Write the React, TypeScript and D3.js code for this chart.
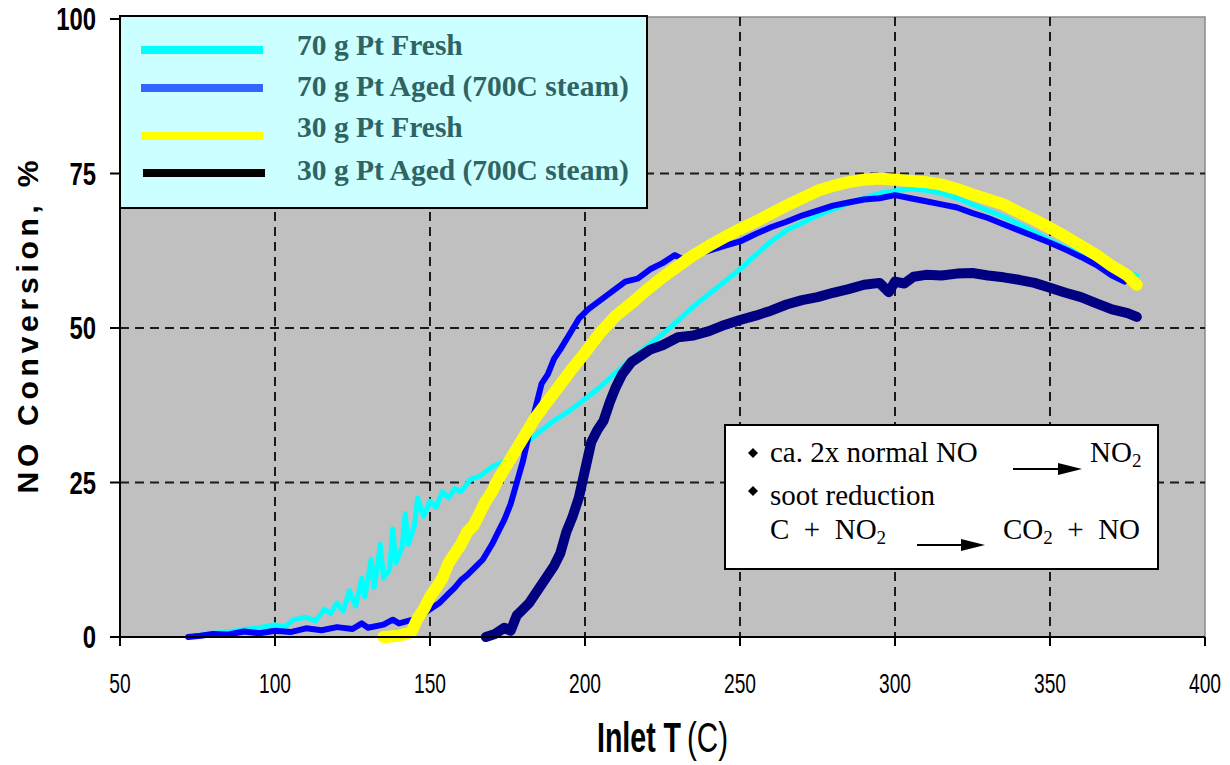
import React from "react";
import { scaleLinear, line } from "d3";

const W = 1230;
const H = 765;
const PLOT = { left: 120, right: 1205, top: 19, bottom: 637 };

const xTicks = [50, 100, 150, 200, 250, 300, 350, 400];
const yTicks = [0, 25, 50, 75, 100];

// [inlet T (C), NO conversion %]
const fresh70: [number, number][] = [
  [72, 0], [76, 0.3], [80, 0.6], [85, 0.8], [90, 1.2], [95, 1.5], [100, 2.0], [103, 1.6],
  [106, 2.8], [110, 3.2], [113, 2.6], [116, 4.5], [118, 3.8], [120, 5.5], [122, 4.2],
  [124, 7.5], [126, 5.0], [128, 9.5], [129, 6.5], [131, 12.5], [132, 8.0], [134, 15.0],
  [135, 9.5], [137, 11.0], [138, 17.5], [139, 12.0], [141, 14.5], [142, 20.0], [143, 15.0],
  [145, 18.0], [146, 22.5], [148, 19.5], [150, 22.0], [152, 21.0], [154, 23.5], [156, 22.5],
  [158, 24.0], [160, 23.5], [163, 25.5], [166, 26.0], [170, 27.5], [174, 28.5], [178, 30.5],
  [182, 31.8], [186, 33.5], [190, 35.0], [195, 36.6], [200, 38.5], [205, 40.5], [210, 42.8],
  [215, 45.0], [220, 47.0], [225, 49.0], [230, 51.2], [235, 53.5], [240, 55.5], [245, 57.5],
  [250, 59.5], [255, 61.8], [260, 64.0], [265, 65.8], [270, 67.0], [275, 68.2], [280, 69.2],
  [285, 70.2], [290, 71.0], [295, 71.8], [300, 72.2], [305, 72.5], [310, 72.3], [315, 71.8],
  [320, 71.0], [325, 70.0], [330, 69.0], [335, 68.0], [340, 66.8], [345, 65.5], [350, 64.2],
  [355, 63.0], [360, 62.0], [365, 61.0], [370, 60.0], [375, 59.0], [378, 58.5],
];

const aged70: [number, number][] = [
  [72, 0], [76, 0.2], [80, 0.5], [85, 0.4], [90, 0.9], [95, 0.6], [100, 1.0], [105, 0.8],
  [110, 1.4], [115, 1.1], [120, 1.6], [125, 1.3], [128, 2.2], [130, 1.5], [135, 2.0],
  [138, 2.8], [140, 2.2], [143, 2.6], [146, 3.0], [148, 3.8], [150, 4.5], [153, 5.5],
  [156, 7.0], [158, 8.0], [160, 9.2], [162, 10.0], [165, 11.5], [167, 12.5], [170, 15.0],
  [172, 17.0], [174, 19.0], [176, 21.5], [178, 25.0], [180, 28.5], [182, 33.0], [184, 37.0],
  [186, 41.0], [188, 42.5], [190, 45.0], [192, 46.5], [195, 49.0], [198, 51.5], [201, 53.0],
  [205, 54.5], [209, 56.0], [213, 57.5], [217, 58.0], [221, 59.5], [225, 60.5], [229, 61.8],
  [232, 61.0], [236, 62.0], [240, 62.5], [245, 63.3], [250, 64.0], [255, 65.2], [260, 66.3],
  [265, 67.2], [270, 68.2], [275, 69.0], [280, 69.8], [285, 70.3], [290, 70.8], [295, 71.0],
  [300, 71.5], [305, 71.0], [310, 70.5], [315, 70.0], [320, 69.5], [325, 68.6], [330, 67.8],
  [335, 66.8], [340, 65.8], [345, 64.8], [350, 63.8], [355, 62.7], [360, 61.5], [365, 60.2],
  [370, 58.5], [374, 57.5],
];

const fresh30: [number, number][] = [
  [135, 0], [140, 0.2], [144, 0.8], [146, 3.0], [148, 4.5], [150, 6.5], [152, 8.0],
  [154, 9.5], [156, 12.0], [158, 13.5], [160, 15.0], [162, 17.0], [164, 18.0], [166, 20.0],
  [168, 22.0], [170, 23.5], [172, 25.5], [175, 28.0], [178, 30.5], [181, 33.0], [184, 35.5],
  [187, 37.5], [190, 39.5], [193, 41.5], [196, 43.5], [200, 46.0], [205, 49.3], [210, 52.0],
  [215, 54.0], [220, 56.2], [225, 58.2], [230, 60.0], [235, 61.8], [240, 63.3], [245, 64.7],
  [250, 66.0], [255, 67.2], [260, 68.5], [265, 69.8], [270, 71.0], [275, 72.2], [280, 73.0],
  [285, 73.6], [290, 74.0], [295, 74.2], [300, 74.0], [305, 73.8], [310, 73.6], [315, 73.2],
  [320, 72.5], [325, 71.6], [330, 70.8], [335, 70.0], [340, 68.7], [345, 67.5], [350, 66.2],
  [355, 64.8], [360, 63.3], [365, 61.8], [370, 60.0], [375, 58.5], [378, 57.0],
];

const aged30: [number, number][] = [
  [168, 0], [171, 0.5], [174, 1.5], [176, 1.0], [178, 3.5], [180, 4.5], [182, 5.5],
  [184, 7.0], [186, 8.5], [188, 10.0], [190, 11.5], [192, 13.5], [194, 17.0], [196, 19.5],
  [198, 22.5], [200, 27.0], [202, 31.5], [204, 33.5], [206, 35.0], [208, 38.0], [210, 40.5],
  [212, 42.5], [215, 44.5], [218, 45.5], [221, 46.5], [225, 47.2], [230, 48.5], [235, 48.8],
  [240, 49.5], [245, 50.5], [250, 51.3], [255, 52.0], [260, 52.8], [265, 53.8], [270, 54.5],
  [275, 55.0], [280, 55.7], [285, 56.3], [290, 57.0], [295, 57.3], [298, 55.8], [300, 57.5],
  [303, 57.2], [306, 58.3], [310, 58.6], [315, 58.5], [320, 58.8], [325, 58.9], [330, 58.5],
  [335, 58.2], [340, 57.8], [345, 57.3], [350, 56.5], [355, 55.7], [360, 55.0], [365, 54.0],
  [370, 53.0], [375, 52.4], [378, 51.8],
];

const series = [
  { name: "70 g Pt Fresh", data: fresh70, color: "#00ffff", legend: "#00ffff", width: 5 },
  { name: "70 g Pt Aged (700C steam)", data: aged70, color: "#0000ff", legend: "#3366ff", width: 6 },
  { name: "30 g Pt Fresh", data: fresh30, color: "#ffff00", legend: "#ffff00", width: 12 },
  { name: "30 g Pt Aged (700C steam)", data: aged30, color: "#000080", legend: "#000000", width: 10 },
];

const SERIF = "'Liberation Serif', 'Times New Roman', serif";
const SANS = "'Liberation Sans', Arial, sans-serif";

function Arrow({ x1, x2, y }: { x1: number; x2: number; y: number }) {
  return (
    <g>
      <line x1={x1} x2={x2 - 22} y1={y} y2={y} stroke="#000" strokeWidth={2} />
      <path d={`M${x2},${y} L${x2 - 24},${y - 6} L${x2 - 24},${y + 6} Z`} fill="#000" />
    </g>
  );
}

function Diamond({ x, y }: { x: number; y: number }) {
  return <path d={`M${x},${y - 5} L${x + 5},${y} L${x},${y + 5} L${x - 5},${y} Z`} fill="#000" />;
}

export default function App() {
  const xScale = scaleLinear().domain([50, 400]).range([PLOT.left, PLOT.right]);
  const yScale = scaleLinear().domain([0, 100]).range([PLOT.bottom, PLOT.top]);
  const path = line<[number, number]>()
    .x((d) => xScale(d[0]))
    .y((d) => yScale(d[1]));

  return (
    <svg
      width={W}
      height={H}
      style={{ position: "absolute", left: 0, top: 0, background: "#fff" }}
    >
      {/* plot area */}
      <rect
        x={PLOT.left}
        y={PLOT.top - 2}
        width={PLOT.right - PLOT.left}
        height={PLOT.bottom - PLOT.top + 2}
        fill="#c0c0c0"
        stroke="#8a8a8a"
        strokeWidth={1.5}
      />

      {/* grid */}
      {xTicks.slice(1, -1).map((t) => (
        <line
          key={"gx" + t}
          x1={xScale(t)}
          x2={xScale(t)}
          y1={PLOT.top - 2}
          y2={PLOT.bottom}
          stroke="#1a1a1a"
          strokeWidth={2}
          strokeDasharray="9,6"
        />
      ))}
      {yTicks.slice(1, -1).map((t) => (
        <line
          key={"gy" + t}
          x1={PLOT.left}
          x2={PLOT.right}
          y1={yScale(t)}
          y2={yScale(t)}
          stroke="#1a1a1a"
          strokeWidth={2}
          strokeDasharray="9,6"
        />
      ))}

      {/* series */}
      {series.map((s) => (
        <path
          key={s.name}
          d={path(s.data) ?? ""}
          fill="none"
          stroke={s.color}
          strokeWidth={s.width}
          strokeLinejoin="round"
          strokeLinecap="round"
        />
      ))}

      {/* axes */}
      <line x1={PLOT.left} x2={PLOT.left} y1={PLOT.top - 2} y2={PLOT.bottom} stroke="#000" strokeWidth={2} />
      <line x1={PLOT.left - 10} x2={PLOT.right} y1={PLOT.bottom} y2={PLOT.bottom} stroke="#000" strokeWidth={2} />
      {yTicks.map((t) => (
        <g key={"yt" + t}>
          <line x1={PLOT.left - 10} x2={PLOT.left} y1={yScale(t)} y2={yScale(t)} stroke="#000" strokeWidth={2} />
          <g transform={`translate(96, ${yScale(t) + 11}) scale(0.77, 1)`}>
            <text x={0} y={0} textAnchor="end" fontFamily={SANS} fontWeight="bold" fontSize={31}>
              {t}
            </text>
          </g>
        </g>
      ))}
      {xTicks.map((t) => (
        <g key={"xt" + t}>
          <line x1={xScale(t)} x2={xScale(t)} y1={PLOT.bottom} y2={PLOT.bottom + 9} stroke="#000" strokeWidth={2} />
          <g transform={`translate(${xScale(t)}, 693) scale(0.8, 1.18)`}>
            <text x={0} y={0} textAnchor="middle" fontFamily={SANS} fontSize={24}>
              {t}
            </text>
          </g>
        </g>
      ))}

      {/* axis titles */}
      <text
        transform="translate(38, 327) rotate(-90)"
        textAnchor="middle"
        fontFamily={SANS}
        fontWeight="bold"
        fontSize={30}
        textLength={333}
        lengthAdjust="spacing"
      >
        NO Conversion, %
      </text>
      <g transform="translate(597, 752) scale(0.84, 1.25)">
        <text x={0} y={0} fontFamily={SANS} fontWeight="bold" fontSize={34}>
          Inlet T
        </text>
      </g>
      <g transform="translate(687, 752) scale(0.87, 1.25)">
        <text x={0} y={0} fontFamily={SANS} fontSize={34}>
          (C)
        </text>
      </g>

      {/* legend */}
      <rect x={120} y={16} width={527} height={192} fill="#ccffff" stroke="#000" strokeWidth={2} />
      {series.map((s, i) => {
        const ly = [50, 88, 136, 173][i];
        const ty = [55, 96, 137, 180][i];
        return (
          <g key={"lg" + s.name}>
            <line x1={141 + (i === 3 ? 2 : 0)} x2={263 + (i === 3 ? 2 : 0)} y1={ly} y2={ly} stroke={s.legend} strokeWidth={8} />
            <text x={297} y={ty} fontFamily={SERIF} fontWeight="bold" fontSize={29.5} fill="#2f6464">
              {s.name}
            </text>
          </g>
        );
      })}

      {/* annotation box */}
      <rect x={725} y={425} width={433} height={144} fill="#fff" stroke="#000" strokeWidth={2} />
      <g fontFamily={SERIF} fontSize={29} fill="#000">
        <Diamond x={753} y={453} />
        <text x={770} y={462}>ca. 2x normal NO</text>
        <Arrow x1={1013} x2={1082} y={469} />
        <text x={1090} y={462}>
          NO<tspan fontSize={19} dy={5}>2</tspan>
        </text>
        <Diamond x={753} y={491} />
        <text x={770} y={505}>soot reduction</text>
        <text x={770} y={539} xmlSpace="preserve">
          {"C  +  NO"}
          <tspan fontSize={19} dy={5}>2</tspan>
        </text>
        <Arrow x1={917} x2={985} y={545} />
        <text x={1003} y={539} xmlSpace="preserve">
          CO<tspan fontSize={19} dy={5}>2</tspan>
          <tspan dy={-5}>{"  +  NO"}</tspan>
        </text>
      </g>
    </svg>
  );
}
